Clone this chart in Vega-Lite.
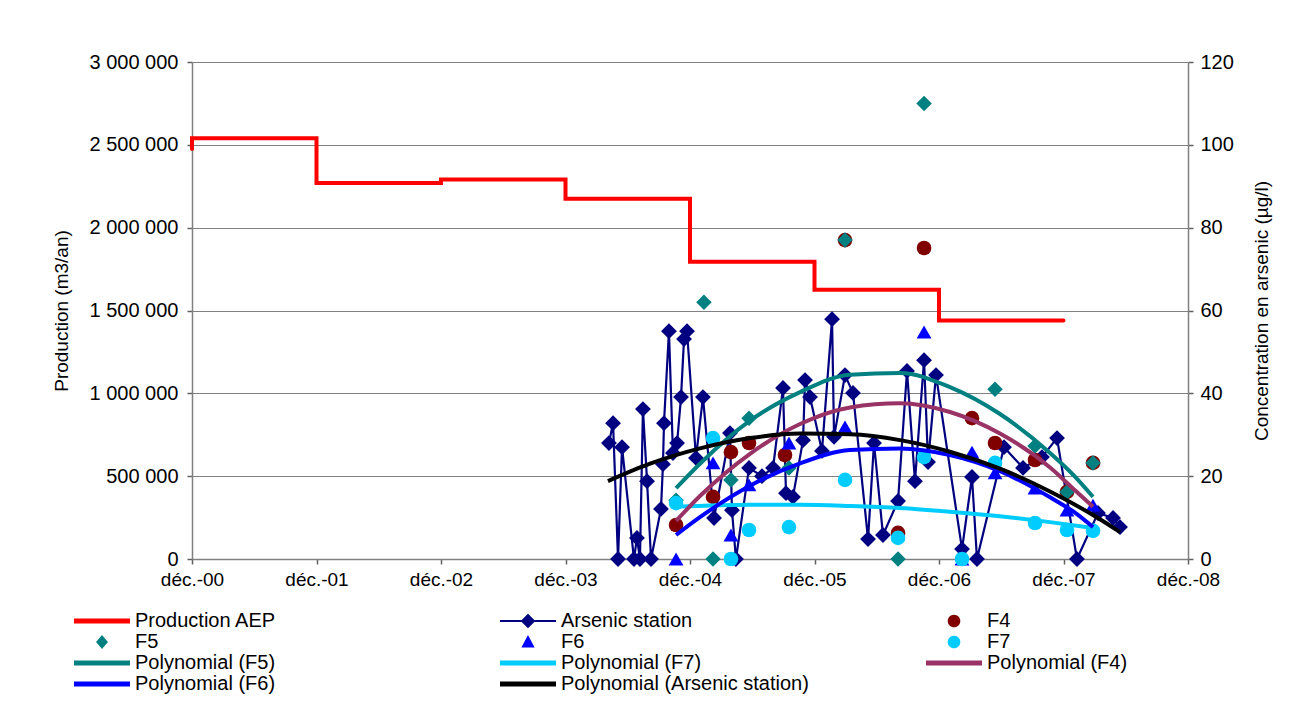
{
  "$schema": "https://vega.github.io/schema/vega-lite/v6.json",
  "width": 996,
  "height": 497,
  "autosize": {"type": "none"},
  "padding": {"left": 192, "top": 62, "right": 107, "bottom": 143},
  "background": "white",
  "datasets": {
    "production": [
      {"series": "Production AEP", "year": 2000.917, "production": 2475000, "seq": 1},
      {"series": "Production AEP", "year": 2000.917, "production": 2540000, "seq": 2},
      {"series": "Production AEP", "year": 2001.917, "production": 2270000, "seq": 3},
      {"series": "Production AEP", "year": 2002.917, "production": 2290000, "seq": 4},
      {"series": "Production AEP", "year": 2003.917, "production": 2175000, "seq": 5},
      {"series": "Production AEP", "year": 2004.917, "production": 1795000, "seq": 6},
      {"series": "Production AEP", "year": 2005.917, "production": 1625000, "seq": 7},
      {"series": "Production AEP", "year": 2006.917, "production": 1440000, "seq": 8},
      {"series": "Production AEP", "year": 2007.917, "production": 1440000, "seq": 9}
    ],
    "measures": [
      {"series": "Arsenic station", "year": 2004.266, "arsenic": 28.0},
      {"series": "Arsenic station", "year": 2004.299, "arsenic": 32.8},
      {"series": "Arsenic station", "year": 2004.339, "arsenic": 0},
      {"series": "Arsenic station", "year": 2004.371, "arsenic": 27.0},
      {"series": "Arsenic station", "year": 2004.467, "arsenic": 0},
      {"series": "Arsenic station", "year": 2004.491, "arsenic": 5.1},
      {"series": "Arsenic station", "year": 2004.515, "arsenic": 0},
      {"series": "Arsenic station", "year": 2004.539, "arsenic": 36.2},
      {"series": "Arsenic station", "year": 2004.572, "arsenic": 18.8},
      {"series": "Arsenic station", "year": 2004.604, "arsenic": 0},
      {"series": "Arsenic station", "year": 2004.684, "arsenic": 12.1},
      {"series": "Arsenic station", "year": 2004.700, "arsenic": 22.9},
      {"series": "Arsenic station", "year": 2004.708, "arsenic": 32.8},
      {"series": "Arsenic station", "year": 2004.748, "arsenic": 55.0},
      {"series": "Arsenic station", "year": 2004.780, "arsenic": 25.6},
      {"series": "Arsenic station", "year": 2004.813, "arsenic": 28.0},
      {"series": "Arsenic station", "year": 2004.845, "arsenic": 39.1},
      {"series": "Arsenic station", "year": 2004.869, "arsenic": 53.1},
      {"series": "Arsenic station", "year": 2004.893, "arsenic": 55.0},
      {"series": "Arsenic station", "year": 2004.965, "arsenic": 24.4},
      {"series": "Arsenic station", "year": 2005.021, "arsenic": 39.1},
      {"series": "Arsenic station", "year": 2005.110, "arsenic": 9.9},
      {"series": "Arsenic station", "year": 2005.238, "arsenic": 30.4},
      {"series": "Arsenic station", "year": 2005.254, "arsenic": 11.8},
      {"series": "Arsenic station", "year": 2005.286, "arsenic": 0},
      {"series": "Arsenic station", "year": 2005.391, "arsenic": 22.0},
      {"series": "Arsenic station", "year": 2005.495, "arsenic": 20.0},
      {"series": "Arsenic station", "year": 2005.584, "arsenic": 22.0},
      {"series": "Arsenic station", "year": 2005.664, "arsenic": 41.3},
      {"series": "Arsenic station", "year": 2005.688, "arsenic": 15.9},
      {"series": "Arsenic station", "year": 2005.744, "arsenic": 15.0},
      {"series": "Arsenic station", "year": 2005.825, "arsenic": 28.7},
      {"series": "Arsenic station", "year": 2005.841, "arsenic": 43.2},
      {"series": "Arsenic station", "year": 2005.881, "arsenic": 39.1},
      {"series": "Arsenic station", "year": 2005.977, "arsenic": 26.1},
      {"series": "Arsenic station", "year": 2006.058, "arsenic": 57.9},
      {"series": "Arsenic station", "year": 2006.074, "arsenic": 29.5},
      {"series": "Arsenic station", "year": 2006.162, "arsenic": 44.4},
      {"series": "Arsenic station", "year": 2006.226, "arsenic": 40.1},
      {"series": "Arsenic station", "year": 2006.347, "arsenic": 4.8},
      {"series": "Arsenic station", "year": 2006.395, "arsenic": 28.0},
      {"series": "Arsenic station", "year": 2006.467, "arsenic": 5.8},
      {"series": "Arsenic station", "year": 2006.588, "arsenic": 14.0},
      {"series": "Arsenic station", "year": 2006.660, "arsenic": 45.4},
      {"series": "Arsenic station", "year": 2006.724, "arsenic": 18.8},
      {"series": "Arsenic station", "year": 2006.797, "arsenic": 48.0},
      {"series": "Arsenic station", "year": 2006.829, "arsenic": 23.4},
      {"series": "Arsenic station", "year": 2006.893, "arsenic": 44.4},
      {"series": "Arsenic station", "year": 2007.102, "arsenic": 2.4},
      {"series": "Arsenic station", "year": 2007.182, "arsenic": 19.8},
      {"series": "Arsenic station", "year": 2007.222, "arsenic": 0},
      {"series": "Arsenic station", "year": 2007.439, "arsenic": 27.0},
      {"series": "Arsenic station", "year": 2007.592, "arsenic": 22.0},
      {"series": "Arsenic station", "year": 2007.744, "arsenic": 24.6},
      {"series": "Arsenic station", "year": 2007.865, "arsenic": 29.2},
      {"series": "Arsenic station", "year": 2008.025, "arsenic": 0},
      {"series": "Arsenic station", "year": 2008.194, "arsenic": 11.1},
      {"series": "Arsenic station", "year": 2008.315, "arsenic": 9.9},
      {"series": "Arsenic station", "year": 2008.371, "arsenic": 7.7},
      {"series": "F4", "year": 2004.805, "arsenic": 8.2},
      {"series": "F4", "year": 2005.102, "arsenic": 15.0},
      {"series": "F4", "year": 2005.246, "arsenic": 25.8},
      {"series": "F4", "year": 2005.391, "arsenic": 28.0},
      {"series": "F4", "year": 2005.680, "arsenic": 25.1},
      {"series": "F4", "year": 2006.162, "arsenic": 77.0},
      {"series": "F4", "year": 2006.588, "arsenic": 6.3},
      {"series": "F4", "year": 2006.797, "arsenic": 75.1},
      {"series": "F4", "year": 2007.182, "arsenic": 34.0},
      {"series": "F4", "year": 2007.367, "arsenic": 28.0},
      {"series": "F4", "year": 2007.688, "arsenic": 23.9},
      {"series": "F4", "year": 2007.945, "arsenic": 16.2},
      {"series": "F4", "year": 2008.154, "arsenic": 23.2},
      {"series": "F5", "year": 2004.805, "arsenic": 14.2},
      {"series": "F5", "year": 2005.029, "arsenic": 62.0},
      {"series": "F5", "year": 2005.102, "arsenic": 0},
      {"series": "F5", "year": 2005.246, "arsenic": 19.1},
      {"series": "F5", "year": 2005.391, "arsenic": 34.0},
      {"series": "F5", "year": 2005.712, "arsenic": 22.0},
      {"series": "F5", "year": 2006.162, "arsenic": 77.0},
      {"series": "F5", "year": 2006.588, "arsenic": 0},
      {"series": "F5", "year": 2006.797, "arsenic": 110.0},
      {"series": "F5", "year": 2007.367, "arsenic": 41.0},
      {"series": "F5", "year": 2007.688, "arsenic": 27.3},
      {"series": "F5", "year": 2007.945, "arsenic": 16.2},
      {"series": "F5", "year": 2008.154, "arsenic": 23.2},
      {"series": "F6", "year": 2004.805, "arsenic": 0},
      {"series": "F6", "year": 2005.102, "arsenic": 23.2},
      {"series": "F6", "year": 2005.246, "arsenic": 5.8},
      {"series": "F6", "year": 2005.391, "arsenic": 17.9},
      {"series": "F6", "year": 2005.712, "arsenic": 28.0},
      {"series": "F6", "year": 2006.162, "arsenic": 31.9},
      {"series": "F6", "year": 2006.797, "arsenic": 54.8},
      {"series": "F6", "year": 2007.102, "arsenic": 0},
      {"series": "F6", "year": 2007.182, "arsenic": 25.8},
      {"series": "F6", "year": 2007.367, "arsenic": 20.8},
      {"series": "F6", "year": 2007.688, "arsenic": 17.1},
      {"series": "F6", "year": 2007.945, "arsenic": 11.8},
      {"series": "F6", "year": 2008.154, "arsenic": 13.0},
      {"series": "F7", "year": 2004.805, "arsenic": 13.5},
      {"series": "F7", "year": 2005.102, "arsenic": 29.2},
      {"series": "F7", "year": 2005.246, "arsenic": 0},
      {"series": "F7", "year": 2005.391, "arsenic": 7.0},
      {"series": "F7", "year": 2005.712, "arsenic": 7.7},
      {"series": "F7", "year": 2006.162, "arsenic": 19.1},
      {"series": "F7", "year": 2006.588, "arsenic": 5.1},
      {"series": "F7", "year": 2006.797, "arsenic": 24.6},
      {"series": "F7", "year": 2007.102, "arsenic": 0},
      {"series": "F7", "year": 2007.367, "arsenic": 23.2},
      {"series": "F7", "year": 2007.688, "arsenic": 8.7},
      {"series": "F7", "year": 2007.945, "arsenic": 7.0},
      {"series": "F7", "year": 2008.154, "arsenic": 6.8}
    ],
    "trends": [
      {"series": "Polynomial (F5)", "year": 2004.805, "arsenic": 17.1},
      {"series": "Polynomial (F5)", "year": 2004.997, "arsenic": 23.0},
      {"series": "Polynomial (F5)", "year": 2005.399, "arsenic": 33.4},
      {"series": "Polynomial (F5)", "year": 2005.801, "arsenic": 40.3},
      {"series": "Polynomial (F5)", "year": 2006.202, "arsenic": 44.5},
      {"series": "Polynomial (F5)", "year": 2006.604, "arsenic": 44.9},
      {"series": "Polynomial (F5)", "year": 2007.005, "arsenic": 41.5},
      {"series": "Polynomial (F5)", "year": 2007.407, "arsenic": 35.0},
      {"series": "Polynomial (F5)", "year": 2007.809, "arsenic": 25.6},
      {"series": "Polynomial (F5)", "year": 2008.009, "arsenic": 19.9},
      {"series": "Polynomial (F5)", "year": 2008.154, "arsenic": 15.0},
      {"series": "Polynomial (F7)", "year": 2004.805, "arsenic": 12.6},
      {"series": "Polynomial (F7)", "year": 2005.399, "arsenic": 13.1},
      {"series": "Polynomial (F7)", "year": 2005.801, "arsenic": 13.1},
      {"series": "Polynomial (F7)", "year": 2006.202, "arsenic": 12.8},
      {"series": "Polynomial (F7)", "year": 2006.604, "arsenic": 12.3},
      {"series": "Polynomial (F7)", "year": 2007.005, "arsenic": 11.4},
      {"series": "Polynomial (F7)", "year": 2007.407, "arsenic": 10.3},
      {"series": "Polynomial (F7)", "year": 2007.809, "arsenic": 8.9},
      {"series": "Polynomial (F7)", "year": 2008.154, "arsenic": 7.5},
      {"series": "Polynomial (F4)", "year": 2004.805, "arsenic": 9.2},
      {"series": "Polynomial (F4)", "year": 2004.997, "arsenic": 15.2},
      {"series": "Polynomial (F4)", "year": 2005.399, "arsenic": 25.4},
      {"series": "Polynomial (F4)", "year": 2005.801, "arsenic": 32.6},
      {"series": "Polynomial (F4)", "year": 2006.202, "arsenic": 36.6},
      {"series": "Polynomial (F4)", "year": 2006.604, "arsenic": 37.6},
      {"series": "Polynomial (F4)", "year": 2007.005, "arsenic": 35.5},
      {"series": "Polynomial (F4)", "year": 2007.407, "arsenic": 30.3},
      {"series": "Polynomial (F4)", "year": 2007.809, "arsenic": 22.1},
      {"series": "Polynomial (F4)", "year": 2008.009, "arsenic": 16.6},
      {"series": "Polynomial (F4)", "year": 2008.154, "arsenic": 12.6},
      {"series": "Polynomial (F6)", "year": 2004.805, "arsenic": 5.8},
      {"series": "Polynomial (F6)", "year": 2004.997, "arsenic": 10.1},
      {"series": "Polynomial (F6)", "year": 2005.399, "arsenic": 17.7},
      {"series": "Polynomial (F6)", "year": 2005.801, "arsenic": 23.1},
      {"series": "Polynomial (F6)", "year": 2006.202, "arsenic": 26.3},
      {"series": "Polynomial (F6)", "year": 2006.604, "arsenic": 26.7},
      {"series": "Polynomial (F6)", "year": 2007.005, "arsenic": 25.1},
      {"series": "Polynomial (F6)", "year": 2007.407, "arsenic": 21.2},
      {"series": "Polynomial (F6)", "year": 2007.809, "arsenic": 14.9},
      {"series": "Polynomial (F6)", "year": 2008.009, "arsenic": 11.2},
      {"series": "Polynomial (F6)", "year": 2008.154, "arsenic": 7.7},
      {"series": "Polynomial (Arsenic station)", "year": 2004.258, "arsenic": 18.8},
      {"series": "Polynomial (Arsenic station)", "year": 2004.596, "arsenic": 23.0},
      {"series": "Polynomial (Arsenic station)", "year": 2004.997, "arsenic": 26.7},
      {"series": "Polynomial (Arsenic station)", "year": 2005.399, "arsenic": 29.2},
      {"series": "Polynomial (Arsenic station)", "year": 2005.801, "arsenic": 30.3},
      {"series": "Polynomial (Arsenic station)", "year": 2006.202, "arsenic": 30.1},
      {"series": "Polynomial (Arsenic station)", "year": 2006.604, "arsenic": 28.7},
      {"series": "Polynomial (Arsenic station)", "year": 2007.005, "arsenic": 25.9},
      {"series": "Polynomial (Arsenic station)", "year": 2007.407, "arsenic": 21.8},
      {"series": "Polynomial (Arsenic station)", "year": 2007.809, "arsenic": 16.3},
      {"series": "Polynomial (Arsenic station)", "year": 2008.210, "arsenic": 9.6},
      {"series": "Polynomial (Arsenic station)", "year": 2008.371, "arsenic": 6.5}
    ]
  },
  "encoding": {
    "x": {
      "field": "year",
      "type": "quantitative",
      "scale": {"domain": [2000.917, 2008.917], "nice": false, "zero": false},
      "axis": {
        "title": null,
        "values": [2000.917, 2001.917, 2002.917, 2003.917, 2004.917, 2005.917, 2006.917, 2007.917, 2008.917],
        "labelExpr": "'déc.-' + substring('' + floor(datum.value), 2, 4)",
        "labelFontSize": 19,
        "labelPadding": 6,
        "labelFlush": false,
        "labelOverlap": false,
        "grid": false
      }
    },
    "color": {
      "field": "series",
      "type": "nominal",
      "scale": {
        "domain": ["Production AEP", "Arsenic station", "F4", "F5", "F6", "F7", "Polynomial (F5)", "Polynomial (F7)", "Polynomial (F4)", "Polynomial (F6)", "Polynomial (Arsenic station)"],
        "range": ["#FF0000", "#000080", "#800000", "#008080", "#0000FF", "#00CCFF", "#008080", "#00CCFF", "#993366", "#0000FF", "#000000"]
      },
      "legend": {
        "title": null,
        "orient": "none",
        "direction": "horizontal",
        "legendX": -128,
        "legendY": 549,
        "columns": 3,
        "columnPadding": 107,
        "rowPadding": 1,
        "gridAlign": "all",
        "padding": 0,
        "symbolSize": 196,
        "symbolStrokeWidth": 0,
        "labelFontSize": 20,
        "labelOffset": 51,
        "labelLimit": 400,
        "labelColor": "#000000",
        "encode": {
          "symbols": {
            "update": {
              "shape": {"signal": "datum.value === 'Arsenic station' ? 'M0,-0.15H8V0.15H0Z M4,-1.05L5.05,0L4,1.05L2.95,0Z' : (datum.value === 'F4' || datum.value === 'F7') ? 'M4.9,0A0.9,0.9,0,1,1,3.1,0A0.9,0.9,0,1,1,4.9,0Z' : datum.value === 'F5' ? 'M4,-1L4.85,0L4,1L3.15,0Z' : datum.value === 'F6' ? 'M4,-1L4.95,0.8L3.05,0.8Z' : 'M0,-0.36H8V0.36H0Z'"},
              "fill": {"scale": "color", "field": "value"},
              "stroke": {"value": "transparent"},
              "strokeWidth": {"value": 0},
              "opacity": {"value": 1}
            }
          }
        }
      }
    }
  },
  "layer": [
    {
      "data": {"name": "production"},
      "mark": {"type": "line", "interpolate": "step-after", "strokeWidth": 4, "strokeCap": "round"},
      "encoding": {
        "order": {"field": "seq", "type": "quantitative"},
        "y": {
          "field": "production",
          "type": "quantitative",
          "scale": {"domain": [0, 3000000], "nice": false},
          "axis": {
            "orient": "left",
            "title": "Production (m3/an)",
            "values": [0, 500000, 1000000, 1500000, 2000000, 2500000, 3000000],
            "labelExpr": "datum.value >= 1000000 ? floor(datum.value / 1000000) + ' ' + format(floor(datum.value / 1000) % 1000, '03d') + ' 000' : datum.value >= 1000 ? floor(datum.value / 1000) + ' 000' : '' + datum.value",
            "labelPadding": 9,
            "titlePadding": 18,
            "grid": true
          }
        }
      }
    },
    {
      "encoding": {
        "y": {
          "field": "arsenic",
          "type": "quantitative",
          "scale": {"domain": [0, 120], "nice": false},
          "axis": {
            "orient": "right",
            "title": "Concentration en arsenic (µg/l)",
            "values": [0, 20, 40, 60, 80, 100, 120],
            "labelPadding": 7,
            "titlePadding": 38,
            "titleAngle": 270,
            "grid": false
          }
        }
      },
      "layer": [
        {
          "data": {"name": "measures"},
          "transform": [{"filter": "datum.series === 'Arsenic station'"}],
          "mark": {"type": "line", "strokeWidth": 2.2}
        },
        {
          "data": {"name": "measures"},
          "transform": [{"filter": "datum.series === 'Arsenic station'"}],
          "mark": {"type": "point", "shape": "diamond", "filled": true, "size": 250, "opacity": 1, "strokeWidth": 0}
        },
        {
          "data": {"name": "measures"},
          "transform": [{"filter": "datum.series === 'F4'"}],
          "mark": {"type": "point", "shape": "circle", "filled": true, "size": 215, "opacity": 1, "strokeWidth": 0}
        },
        {
          "data": {"name": "measures"},
          "transform": [{"filter": "datum.series === 'F5'"}],
          "mark": {"type": "point", "shape": "diamond", "filled": true, "size": 240, "opacity": 1, "strokeWidth": 0}
        },
        {
          "data": {"name": "measures"},
          "transform": [{"filter": "datum.series === 'F6'"}],
          "mark": {"type": "point", "shape": "triangle-up", "filled": true, "size": 220, "opacity": 1, "strokeWidth": 0}
        },
        {
          "data": {"name": "measures"},
          "transform": [{"filter": "datum.series === 'F7'"}],
          "mark": {"type": "point", "shape": "circle", "filled": true, "size": 215, "opacity": 1, "strokeWidth": 0}
        },
        {
          "data": {"name": "trends"},
          "transform": [{"filter": "datum.series === 'Polynomial (F5)'"}],
          "mark": {"type": "line", "interpolate": "monotone", "strokeWidth": 4}
        },
        {
          "data": {"name": "trends"},
          "transform": [{"filter": "datum.series === 'Polynomial (F7)'"}],
          "mark": {"type": "line", "interpolate": "monotone", "strokeWidth": 4}
        },
        {
          "data": {"name": "trends"},
          "transform": [{"filter": "datum.series === 'Polynomial (F4)'"}],
          "mark": {"type": "line", "interpolate": "monotone", "strokeWidth": 4}
        },
        {
          "data": {"name": "trends"},
          "transform": [{"filter": "datum.series === 'Polynomial (F6)'"}],
          "mark": {"type": "line", "interpolate": "monotone", "strokeWidth": 4}
        },
        {
          "data": {"name": "trends"},
          "transform": [{"filter": "datum.series === 'Polynomial (Arsenic station)'"}],
          "mark": {"type": "line", "interpolate": "monotone", "strokeWidth": 4}
        }
      ]
    }
  ],
  "resolve": {"scale": {"y": "independent"}},
  "config": {
    "font": "Liberation Sans",
    "view": {"stroke": null},
    "axis": {
      "labelFont": "Liberation Sans",
      "labelFontSize": 20,
      "labelColor": "#000000",
      "titleFont": "Liberation Sans",
      "titleFontSize": 19,
      "titleFontWeight": "normal",
      "titleColor": "#000000",
      "domainColor": "#808080",
      "domainWidth": 1.5,
      "tickColor": "#606060",
      "tickWidth": 1.5,
      "tickSize": 5,
      "gridColor": "#808080",
      "gridWidth": 1
    },
    "legend": {"labelFont": "Liberation Sans"}
  }
}
